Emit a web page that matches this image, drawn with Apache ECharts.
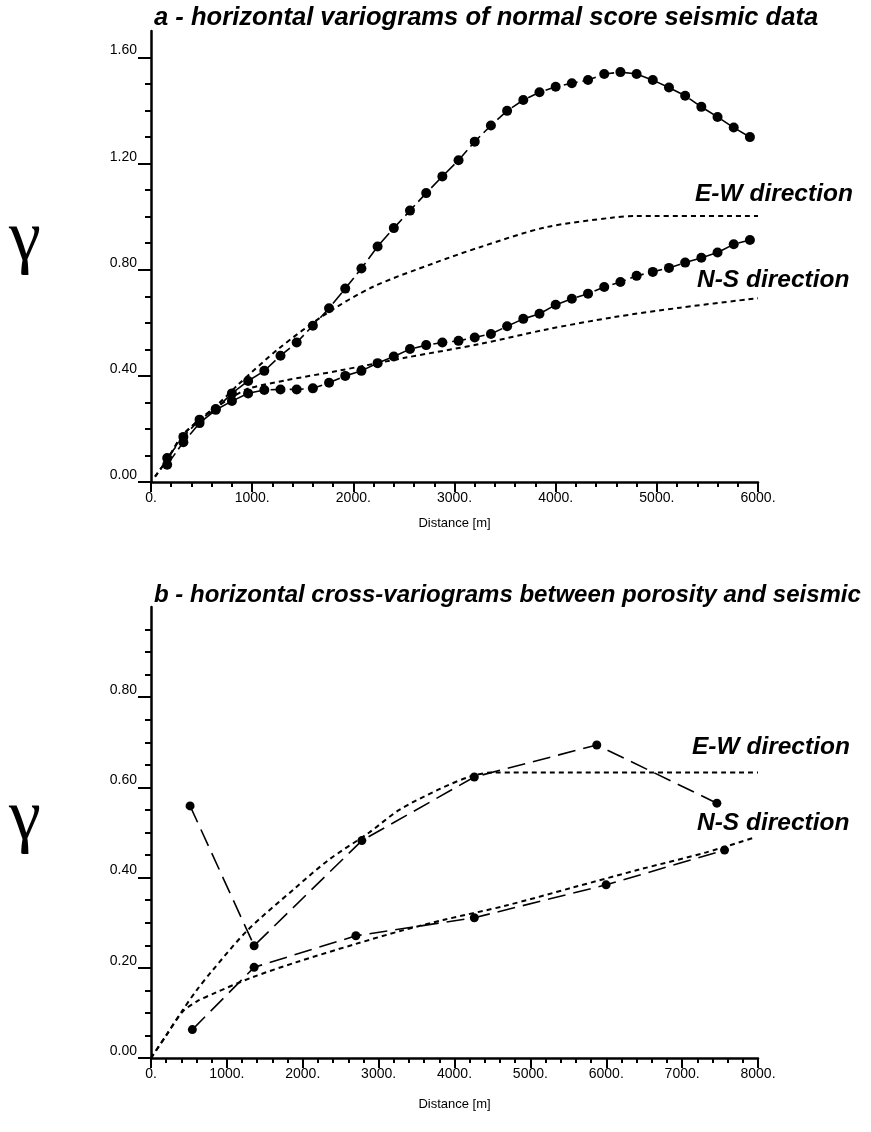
<!DOCTYPE html>
<html>
<head>
<meta charset="utf-8">
<script src="https://cdn.jsdelivr.net/npm/echarts@6/dist/echarts.min.js"></script>
<style>
  html, body { margin: 0; padding: 0; background: #fff; }
  #chart { width: 871px; height: 1132px; }
</style>
</head>
<body>
<div id="chart"></div>
<script>
var chart = echarts.init(document.getElementById('chart'));

// --- panel a: normal score seismic variograms ---
const lagA = [160, 320, 480, 640, 800, 960, 1120, 1280, 1440, 1600, 1760, 1920, 2080, 2240, 2400,
  2560, 2720, 2880, 3040, 3200, 3360, 3520, 3680, 3840, 4000, 4160, 4320, 4480, 4640, 4800,
  4960, 5120, 5280, 5440, 5600, 5760, 5920];
const ewA = [0.09, 0.17, 0.235, 0.275, 0.334, 0.381, 0.419, 0.476, 0.526, 0.589, 0.655, 0.729, 0.805,
  0.888, 0.957, 1.023, 1.089, 1.152, 1.213, 1.283, 1.344, 1.399, 1.44, 1.469, 1.49, 1.503, 1.515,
  1.538, 1.545, 1.538, 1.515, 1.487, 1.456, 1.414, 1.376, 1.336, 1.30];
const nsA = [0.065, 0.15, 0.222, 0.272, 0.305, 0.334, 0.347, 0.349, 0.349, 0.353, 0.374, 0.40, 0.419,
  0.448, 0.473, 0.501, 0.516, 0.526, 0.532, 0.545, 0.558, 0.587, 0.615, 0.634, 0.668, 0.691, 0.71,
  0.735, 0.754, 0.777, 0.792, 0.807, 0.827, 0.845, 0.865, 0.896, 0.912];
const ewModelAx = [40, 160, 310, 480, 640, 870, 1270, 1730, 2190, 2790, 3250, 3900, 4570, 4800, 6000];
const ewModelAy = [0.02, 0.085, 0.175, 0.235, 0.285, 0.37, 0.505, 0.634, 0.735, 0.824, 0.885, 0.96, 0.997, 1.003, 1.003];
const nsModelAx = [40, 160, 310, 480, 640, 800, 970, 1330, 1860, 2520, 3250, 3910, 4570, 5230, 6000];
const nsModelAy = [0.02, 0.085, 0.175, 0.235, 0.28, 0.32, 0.353, 0.383, 0.42, 0.469, 0.52, 0.575, 0.621, 0.657, 0.693];

// --- panel b: porosity / seismic cross-variograms ---
const ewBx = [515, 1359, 2779, 4261, 5875, 7458];
const ewBy = [0.559, 0.249, 0.482, 0.623, 0.694, 0.565];
const nsBx = [545, 1359, 2700, 4261, 5998, 7559];
const nsBy = [0.063, 0.201, 0.271, 0.311, 0.384, 0.461];
const ewModelBx = [0, 200, 413, 600, 809, 1271, 1908, 2348, 2876, 3272, 3799, 4222, 4500, 8000];
const ewModelBy = [0, 0.05, 0.105, 0.15, 0.194, 0.283, 0.378, 0.44, 0.50, 0.55, 0.596, 0.625, 0.633, 0.633];
const nsModelBx = [0, 200, 413, 600, 853, 1337, 1908, 2700, 3316, 3850, 4679, 5559, 6438, 7318, 7955];
const nsModelBy = [0, 0.05, 0.102, 0.125, 0.145, 0.179, 0.212, 0.253, 0.283, 0.306, 0.338, 0.378, 0.418, 0.456, 0.489];

// ticks
const xMajorA = [0, 1000, 2000, 3000, 4000, 5000, 6000];
const xMinorA = [200, 400, 600, 800, 1200, 1400, 1600, 1800, 2200, 2400, 2600, 2800, 3200, 3400, 3600, 3800,
  4200, 4400, 4600, 4800, 5200, 5400, 5600, 5800];
const yMajorA = [0, 0.4, 0.8, 1.2, 1.6];
const yMinorA = [0.1, 0.2, 0.3, 0.5, 0.6, 0.7, 0.9, 1.0, 1.1, 1.3, 1.4, 1.5];
const xMajorB = [0, 1000, 2000, 3000, 4000, 5000, 6000, 7000, 8000];
const xMinorB = [200, 400, 600, 800, 1200, 1400, 1600, 1800, 2200, 2400, 2600, 2800, 3200, 3400, 3600, 3800,
  4200, 4400, 4600, 4800, 5200, 5400, 5600, 5800, 6200, 6400, 6600, 6800, 7200, 7400, 7600, 7800];
const yMajorB = [0, 0.2, 0.4, 0.6, 0.8];
const yMinorB = [0.05, 0.1, 0.15, 0.25, 0.3, 0.35, 0.45, 0.5, 0.55, 0.65, 0.7, 0.75, 0.85, 0.9, 0.95];

const pair = (xs, ys) => xs.map((x, i) => [x, ys[i]]);

const labelFont = { fontFamily: 'Liberation Sans, Arial', fontSize: 14, color: '#000' };
const boldItalic = { fontFamily: 'Liberation Sans, Arial', fontWeight: 'bold', fontStyle: 'italic', color: '#000' };

const xMajor = (grid, max, ticks) => ({
  gridIndex: grid, type: 'value', min: 0, max: max, position: 'bottom',
  name: 'Distance [m]', nameLocation: 'middle', nameGap: 35,
  nameTextStyle: Object.assign({}, labelFont, { fontSize: 13 }),
  axisLine: { lineStyle: { color: '#000', width: 2.5 } },
  axisTick: { customValues: ticks, length: 10, lineStyle: { color: '#000', width: 2 } },
  axisLabel: Object.assign({ customValues: ticks, margin: 9, formatter: v => v + '.' }, labelFont),
  splitLine: { show: false }
});
const xMinor = (grid, max, ticks) => ({
  gridIndex: grid, type: 'value', min: 0, max: max, position: 'bottom', offset: 0,
  axisLine: { show: false },
  axisTick: { customValues: ticks, length: 5, lineStyle: { color: '#000', width: 2 } },
  axisLabel: { show: false },
  splitLine: { show: false }
});
const yMajor = (grid, max, ticks) => ({
  gridIndex: grid, type: 'value', min: 0, max: max, position: 'left',
  axisLine: { show: true, lineStyle: { color: '#000', width: 2.5 } },
  axisTick: { show: true, customValues: ticks, length: 13, lineStyle: { color: '#000', width: 2 } },
  axisLabel: Object.assign({ customValues: ticks, margin: 14, verticalAlign: 'bottom', formatter: v => v.toFixed(2) }, labelFont),
  splitLine: { show: false }
});
const yMinor = (grid, max, ticks) => ({
  gridIndex: grid, type: 'value', min: 0, max: max, position: 'left', offset: 0,
  axisLine: { show: false },
  axisTick: { show: true, customValues: ticks, length: 6, lineStyle: { color: '#000', width: 2 } },
  axisLabel: { show: false },
  splitLine: { show: false }
});

const dataLine = (xi, yi, data, dash, size) => ({
  type: 'line', xAxisIndex: xi, yAxisIndex: yi, data: data,
  symbol: 'circle', symbolSize: size, showAllSymbol: true,
  itemStyle: { color: '#000' },
  lineStyle: { color: '#000', width: 1.6, type: dash },
  z: 3
});
const modelLine = (xi, yi, data) => ({
  type: 'line', xAxisIndex: xi, yAxisIndex: yi, data: data,
  showSymbol: false, smooth: 0.3,
  lineStyle: { color: '#000', width: 2, type: [5, 4] },
  z: 2
});

var option = {
  backgroundColor: '#fff',
  animation: false,
  title: [
    { text: 'a - horizontal variograms of normal score seismic data', left: 149, top: 0,
      textStyle: Object.assign({ fontSize: 25.6 }, boldItalic) },
    { text: 'b - horizontal cross-variograms between porosity and seismic', left: 149, top: 578,
      textStyle: Object.assign({ fontSize: 24 }, boldItalic) }
  ],
  grid: [
    { left: 151, top: 31, width: 607, height: 451 },
    { left: 151, top: 607, width: 607, height: 451 }
  ],
  xAxis: [
    xMajor(0, 6000, xMajorA), xMinor(0, 6000, xMinorA),
    Object.assign(xMajor(1, 8000, xMajorB), { nameGap: 40 }), xMinor(1, 8000, xMinorB)
  ],
  yAxis: [
    yMajor(0, 1.7, yMajorA), yMinor(0, 1.7, yMinorA),
    yMajor(1, 1.0, yMajorB), yMinor(1, 1.0, yMinorB)
  ],
  series: [
    dataLine(0, 0, pair(lagA, ewA), [14, 5], 10),
    dataLine(0, 0, pair(lagA, nsA), [14, 5], 10),
    modelLine(0, 0, pair(ewModelAx, ewModelAy)),
    modelLine(0, 0, pair(nsModelAx, nsModelAy)),
    dataLine(2, 2, pair(ewBx, ewBy), [18, 8], 9),
    dataLine(2, 2, pair(nsBx, nsBy), [18, 8], 9),
    modelLine(2, 2, pair(ewModelBx, ewModelBy)),
    modelLine(2, 2, pair(nsModelBx, nsModelBy))
  ],
  graphic: [
    { type: 'text', left: 695, top: 182, style: Object.assign({ text: 'E-W direction', fontSize: 24.5 }, boldItalic, { fill: '#000' }) },
    { type: 'text', left: 697, top: 268, style: Object.assign({ text: 'N-S direction', fontSize: 24.5 }, boldItalic, { fill: '#000' }) },
    { type: 'text', left: 692, top: 735, style: Object.assign({ text: 'E-W direction', fontSize: 24.5 }, boldItalic, { fill: '#000' }) },
    { type: 'text', left: 697, top: 811, style: Object.assign({ text: 'N-S direction', fontSize: 24.5 }, boldItalic, { fill: '#000' }) },
    { type: 'text', left: 9, top: 205, style: { text: 'γ', font: '72px "Liberation Serif"', fill: '#000' } },
    { type: 'text', left: 9, top: 784, style: { text: 'γ', font: '72px "Liberation Serif"', fill: '#000' } }
  ]
};

chart.setOption(option);
</script>
</body>
</html>
